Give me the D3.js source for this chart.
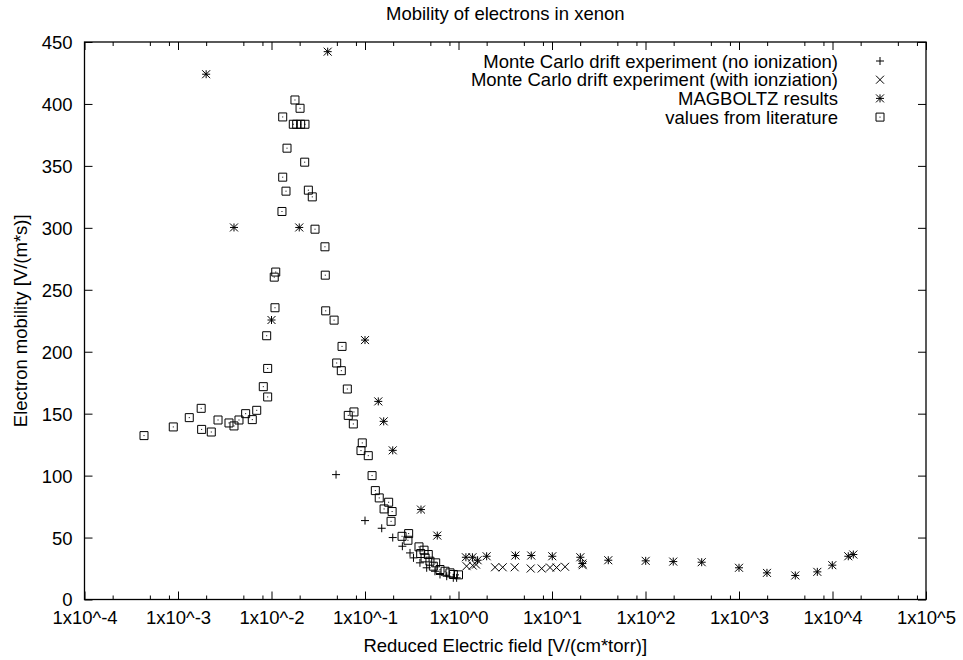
<!DOCTYPE html>
<html>
<head>
<meta charset="utf-8">
<script src="https://cdn.jsdelivr.net/npm/d3@7/dist/d3.min.js"></script>
<style>
  body { margin: 0; background: #fff; }
  svg { display: block; font-family: "Liberation Sans", Arial, Helvetica, sans-serif; }
</style>
</head>
<body>
<svg id="chart" width="963" height="660"></svg>
<script>
// ---- data ----
const titleText = "Mobility of electrons in xenon";
const xLabelText = "Reduced Electric field [V/(cm*torr)]";
const yLabelText = "Electron mobility [V/(m*s)]";

const xTickExps = [-4, -3, -2, -1, 0, 1, 2, 3, 4, 5];
const xTickLabels = ["1x10^-4","1x10^-3","1x10^-2","1x10^-1","1x10^0","1x10^1","1x10^2","1x10^3","1x10^4","1x10^5"];
const xMinorMultipliers = [2, 5, 8];
const yTicks = [0, 50, 100, 150, 200, 250, 300, 350, 400, 450];

const seriesNames = [
  "Monte Carlo drift experiment (no ionization)",
  "Monte Carlo drift experiment (with ionziation)",
  "MAGBOLTZ results",
  "values from literature"
];

// Monte Carlo, no ionization (+)
const noIonX = [0.049, 0.1, 0.151, 0.198, 0.251, 0.303, 0.33, 0.387, 0.457, 0.56, 0.634, 0.748, 0.88, 0.955];
const noIonY = [100.8, 63.7, 57.5, 50, 43, 37.6, 33.6, 29.6, 25.6, 22.8, 20.2, 18.8, 17.5, 17.5];

// Monte Carlo, with ionization (x)
const ionX = [1.22, 1.42, 1.54, 2.46, 2.97, 3.99, 5.92, 7.76, 9.53, 11.2, 13.8, 21.3];
const ionY = [26.9, 27.4, 28.2, 26, 26, 26, 25, 25, 25.8, 25.8, 26.4, 27.7];

// MAGBOLTZ (*)
const magX = [0.002, 0.00397, 0.01, 0.0198, 0.0399, 0.1, 0.1387, 0.1585, 0.198, 0.397, 0.593,
              1.2, 1.41, 1.6, 2.0, 4.06, 6.0, 10.07, 20.1, 21.1, 40, 100.5, 198, 399, 1000, 1991, 4000, 6880, 9950, 14750, 16700];
const magY = [424, 300.3, 225.6, 300.3, 442.2, 209.4, 159.9, 143.8, 120.4, 72.6, 51.6,
              34.1, 34.1, 31.7, 34.9, 35.5, 35.5, 34.9, 34.1, 29.0, 31.7, 31.2, 30.6, 30.1, 25.6, 21.5, 19.4, 22.3, 27.7, 34.9, 36.3];

// values from literature (boxes)
const litX = [0.000433, 0.00089, 0.00132, 0.00177, 0.00179, 0.00227, 0.00268, 0.00351, 0.00397, 0.00449,
              0.00529, 0.00623, 0.00695, 0.00817, 0.0091, 0.0091, 0.00888, 0.0109, 0.0107, 0.0111,
              0.01294, 0.01318, 0.01318, 0.01429, 0.01465, 0.0171, 0.0186, 0.0205, 0.0228, 0.01782,
              0.0202, 0.02265, 0.02478, 0.0273, 0.0292, 0.0373, 0.0376, 0.038, 0.0467, 0.0568,
              0.0498, 0.0558, 0.0647, 0.0762, 0.0662, 0.075, 0.0935, 0.0906, 0.1084, 0.119,
              0.129, 0.142, 0.179, 0.16, 0.195, 0.19, 0.249, 0.293, 0.288, 0.378,
              0.428, 0.394, 0.475, 0.439, 0.495, 0.57, 0.538, 0.634, 0.718, 0.811, 0.881, 1.0];
const litY = [132.3, 139.3, 146.8, 154.3, 137.3, 135.2, 144.9, 142.5, 140.1, 144.9,
              150, 145.2, 152.7, 171.8, 163.5, 186.5, 212.9, 235.5, 260.2, 264.3,
              313.2, 340.9, 389.5, 329.6, 364.3, 383.6, 383.6, 383.6, 383.6, 403.2,
              396.5, 353, 330.4, 325, 298.9, 284.7, 261.8, 233, 225.5, 204.3,
              190.9, 184.7, 169.9, 151.4, 148.6, 141.7, 126.4, 120.2, 116.1, 100,
              87.9, 82, 78.5, 73.1, 71, 63.1, 51, 53.2, 47.8, 42.5,
              39.8, 37.1, 36.3, 33.6, 30.9, 29.6, 26.9, 24.2, 22.8, 21.5, 20.2, 19.9];

// ---- layout ----
const m = { left: 84.5, right: 926, top: 42, bottom: 599.5 };
const fontSize = 18.5;
const fontFamily = '"Liberation Sans", Arial, sans-serif';

const svg = d3.select("#chart");
const x = d3.scaleLog().domain([1e-4, 1e5]).range([m.left, m.right]);
const y = d3.scaleLinear().domain([0, 450]).range([m.bottom, m.top]);

const majorLen = 8, minorLen = 4;
const majorVals = xTickExps.map(e => Math.pow(10, e));
const minorVals = [];
for (let e = -4; e < 5; e++) xMinorMultipliers.forEach(k => minorVals.push(k * Math.pow(10, e)));

// bottom axis
const gB = svg.append("g").attr("transform", `translate(0,${m.bottom})`)
  .call(d3.axisBottom(x).tickValues(majorVals).tickSizeInner(-majorLen).tickSizeOuter(0)
    .tickFormat((d, i) => xTickLabels[i]).tickPadding(18));
const gBm = svg.append("g").attr("transform", `translate(0,${m.bottom})`)
  .call(d3.axisBottom(x).tickValues(minorVals).tickSizeInner(-minorLen).tickSizeOuter(0).tickFormat(""));
// top axis (mirrored)
const gT = svg.append("g").attr("transform", `translate(0,${m.top})`)
  .call(d3.axisTop(x).tickValues(majorVals).tickSizeInner(-majorLen).tickSizeOuter(0).tickFormat(""));
const gTm = svg.append("g").attr("transform", `translate(0,${m.top})`)
  .call(d3.axisTop(x).tickValues(minorVals).tickSizeInner(-minorLen).tickSizeOuter(0).tickFormat(""));
// left axis
const gL = svg.append("g").attr("transform", `translate(${m.left},0)`)
  .call(d3.axisLeft(y).tickValues(yTicks).tickSizeInner(-majorLen).tickSizeOuter(0).tickPadding(12));
// right axis (mirrored)
const gR = svg.append("g").attr("transform", `translate(${m.right},0)`)
  .call(d3.axisRight(y).tickValues(yTicks).tickSizeInner(-majorLen).tickSizeOuter(0).tickFormat(""));

[gB, gBm, gT, gTm, gL, gR].forEach(g => {
  g.select(".domain").remove();
  g.selectAll("line").attr("stroke", "#000").attr("stroke-width", 1);
  g.selectAll("text").attr("fill", "#000").style("font-size", fontSize + "px").style("font-family", fontFamily);
});
gB.selectAll("text").attr("dy", "0.35em");
gL.selectAll("text").attr("dy", "0.35em");

// frame
svg.append("rect").attr("x", m.left).attr("y", m.top)
  .attr("width", m.right - m.left).attr("height", m.bottom - m.top)
  .attr("fill", "none").attr("stroke", "#000").attr("stroke-width", 1.3);

// titles
function label(xx, yy, txt, rot) {
  const t = svg.append("text").attr("text-anchor", "middle").attr("dominant-baseline", "central")
    .style("font-size", fontSize + "px").style("font-family", fontFamily).attr("fill", "#000").text(txt);
  t.attr("transform", `translate(${xx},${yy})` + (rot ? ` rotate(${rot})` : ""));
}
label((m.left + m.right) / 2, 13, titleText);
label((m.left + m.right) / 2, 645, xLabelText);
label(20, (m.top + m.bottom) / 2, yLabelText, -90);

// marker shapes
const s = 4;
const shapes = {
  plus: `M${-s},0H${s}M0,${-s}V${s}`,
  cross: `M${-s},${-s}L${s},${s}M${-s},${s}L${s},${-s}`,
  star: `M${-s},0H${s}M0,${-s}V${s}M${-s},${-s}L${s},${s}M${-s},${s}L${s},${-s}`,
  box: `M${-s},${-s}H${s}V${s}H${-s}Z`
};

function drawSeries(xs, ys, shape) {
  const g = svg.append("g");
  const data = xs.map((v, i) => [v, ys[i]]);
  g.selectAll("path").data(data).join("path")
    .attr("transform", d => `translate(${x(d[0])},${y(d[1])})`)
    .attr("d", shapes[shape]).attr("fill", "none").attr("stroke", "#000").attr("stroke-width", 1);
  if (shape === "box") {
    g.selectAll("rect.dot").data(data).join("rect").attr("class", "dot")
      .attr("x", d => x(d[0]) - 0.5).attr("y", d => y(d[1]) - 0.5)
      .attr("width", 1).attr("height", 1).attr("fill", "#000");
  }
}
drawSeries(noIonX, noIonY, "plus");
drawSeries(ionX, ionY, "cross");
drawSeries(magX, magY, "star");
drawSeries(litX, litY, "box");

// legend
const legShapes = ["plus", "cross", "star", "box"];
const legTextX = 838, legSymX = 880, legY0 = 61, legDy = 18.7;
seriesNames.forEach((name, i) => {
  const yy = legY0 + i * legDy;
  svg.append("text").attr("x", legTextX).attr("y", yy).attr("text-anchor", "end")
    .attr("dominant-baseline", "central").style("font-size", fontSize + "px")
    .style("font-family", fontFamily).text(name);
  svg.append("path").attr("transform", `translate(${legSymX},${yy})`).attr("d", shapes[legShapes[i]])
    .attr("fill", "none").attr("stroke", "#000").attr("stroke-width", 1);
  if (legShapes[i] === "box") {
    svg.append("rect").attr("x", legSymX - 0.5).attr("y", yy - 0.5).attr("width", 1).attr("height", 1).attr("fill", "#000");
  }
});
</script>
</body>
</html>
